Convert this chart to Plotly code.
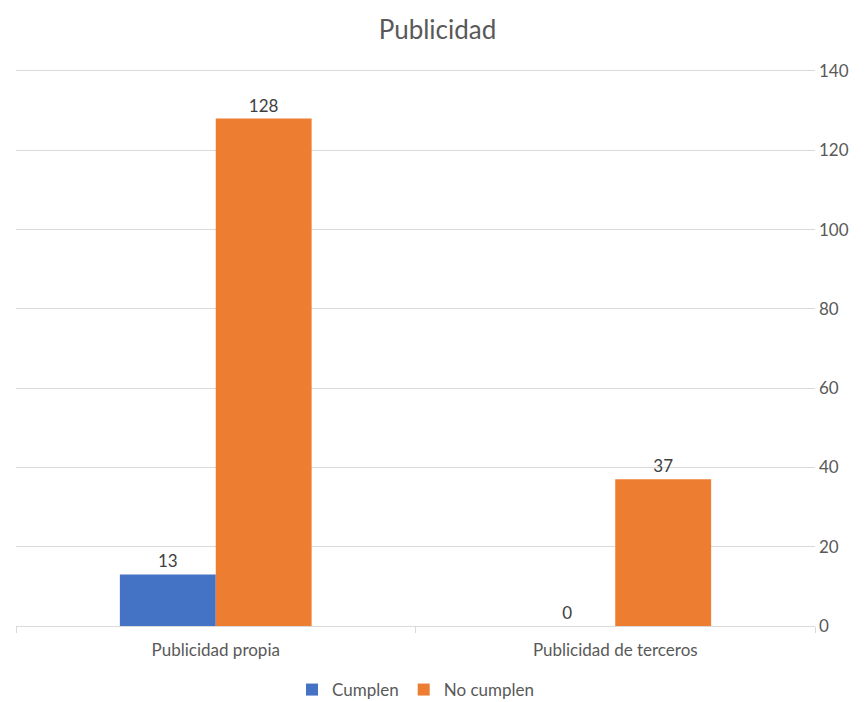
import plotly.graph_objects as go

categories = ["Publicidad propia", "Publicidad de terceros"]
cumplen = [13, 0]
no_cumplen = [128, 37]
y_ticks = [0, 20, 40, 60, 80, 100, 120, 140]

FONT = "Lato, Calibri, sans-serif"

fig = go.Figure()
fig.add_trace(go.Bar(
    name="Cumplen", x=categories, y=cumplen,
    marker=dict(color="#4472C4", line=dict(width=0)),
    text=[str(v) for v in cumplen], textposition="outside",
    textfont=dict(size=17, color="#404040", family=FONT), cliponaxis=False,
))
fig.add_trace(go.Bar(
    name="No cumplen", x=categories, y=no_cumplen,
    marker=dict(color="#ED7D31", line=dict(width=0)),
    text=[str(v) for v in no_cumplen], textposition="outside",
    textfont=dict(size=17, color="#404040", family=FONT), cliponaxis=False,
))

fig.update_layout(
    width=859, height=694,
    paper_bgcolor="white", plot_bgcolor="white",
    margin=dict(l=8, r=52, t=59, b=76, autoexpand=False),
    barmode="group", bargap=0.52, bargroupgap=0,
    title=dict(text="Publicidad", x=0.5, xanchor="center", y=0.968, yanchor="middle",
               font=dict(family=FONT, size=26, color="#595959"),
               automargin=False),
    font=dict(family=FONT, color="#595959"),
    legend=dict(orientation="h", x=0.5, xanchor="center", y=-0.1145, yanchor="middle",
                font=dict(size=17, color="#595959", family=FONT), itemwidth=30,
                traceorder="normal"),
    uniformtext=dict(mode=False),
)
fig.update_xaxes(
    showgrid=False, showline=True, linecolor="#D9D9D9", linewidth=1,
    ticks="outside", tickson="boundaries", ticklen=6, tickcolor="#D9D9D9",
    tickfont=dict(size=17, color="#595959", family=FONT), automargin=False,
    ticklabelstandoff=9,
)
fig.update_yaxes(
    side="right", range=[0, 141], tickvals=y_ticks, showline=False,
    showgrid=True, gridcolor="#D9D9D9", gridwidth=1, zeroline=False,
    tickfont=dict(size=17, color="#595959", family=FONT), ticklabelstandoff=3,
    automargin=False,
)

fig.write_html("out.html")
